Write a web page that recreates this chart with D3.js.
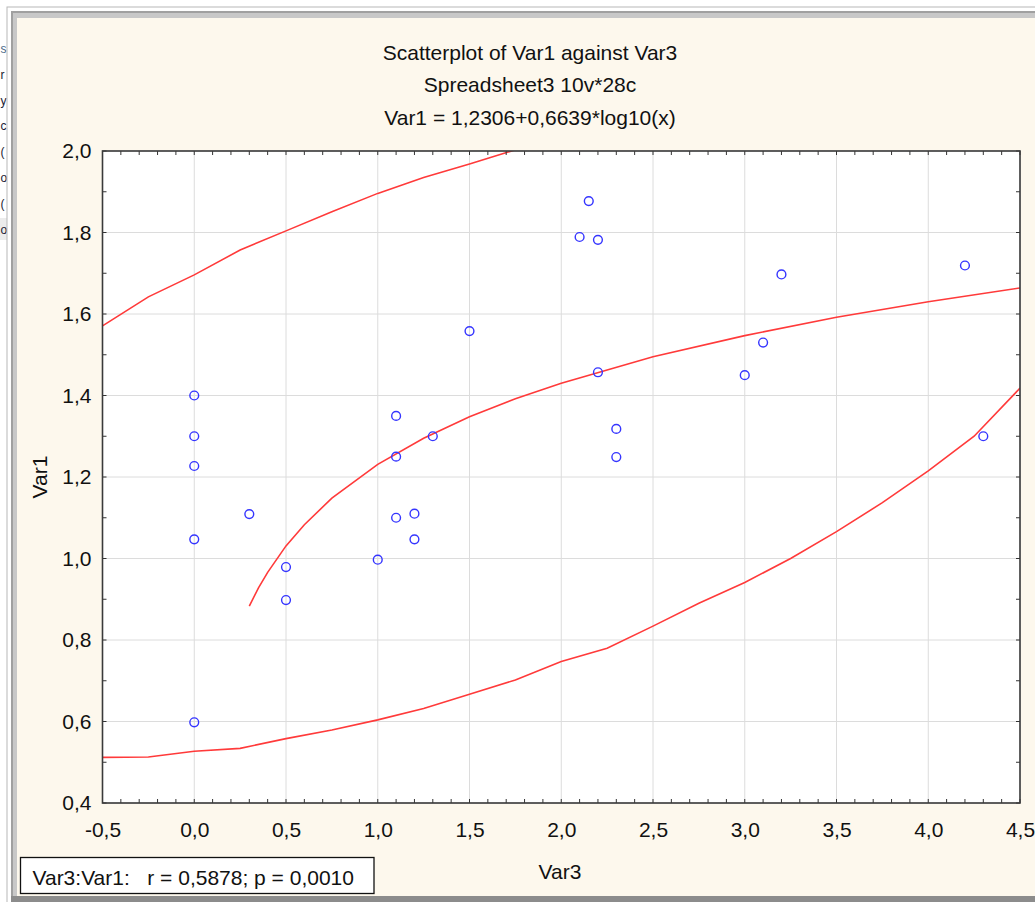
<!DOCTYPE html>
<html>
<head>
<meta charset="utf-8">
<script src="https://cdn.jsdelivr.net/npm/d3@7"></script>
<style>
  body { margin: 0; background: #fff; }
  svg { display: block; font-family: "Liberation Sans", Arial, sans-serif; }
</style>
</head>
<body>
<svg width="1035" height="902"></svg>
<script>
// observed cases (Var3 on x, Var1 on y)
let var3 = [0.0, 0.0, 0.0, 0.0, 0.0, 0.3, 0.5, 0.5, 1.0, 1.1, 1.1, 1.1, 1.2, 1.2, 1.3,
            1.5, 2.1, 2.15, 2.2, 2.2, 2.3, 2.3, 3.0, 3.1, 3.2, 4.2, 4.3];
let var1 = [1.40, 1.30, 1.227, 1.047, 0.598, 1.109, 0.979, 0.898, 0.997, 1.35, 1.25, 1.10, 1.11, 1.047, 1.30,
            1.558, 1.789, 1.877, 1.782, 1.457, 1.318, 1.249, 1.450, 1.530, 1.697, 1.719, 1.30];

// fitted curve
let fitX = [0.3, 0.35, 0.4, 0.5, 0.6, 0.75, 1.0, 1.25, 1.5, 1.75, 2.0, 2.5, 3.0, 3.5, 4.0, 4.5];
let fitY = [0.883, 0.928, 0.966, 1.031, 1.083, 1.148, 1.231, 1.295, 1.348, 1.392, 1.430, 1.495, 1.547, 1.592, 1.630, 1.664];

// upper / lower bands
let upX = [-0.5, -0.25, 0, 0.25, 0.5, 0.75, 1.0, 1.25, 1.5, 1.75];
let upY = [1.571, 1.642, 1.696, 1.757, 1.804, 1.851, 1.896, 1.935, 1.968, 2.003];
let loX = [-0.5, -0.25, 0, 0.25, 0.5, 0.75, 1.0, 1.25, 1.5, 1.75, 2.0, 2.25, 2.5, 2.75, 3.0, 3.25, 3.5, 3.75, 4.0, 4.25, 4.5];
let loY = [0.512, 0.513, 0.527, 0.534, 0.558, 0.579, 0.604, 0.632, 0.667, 0.702, 0.747, 0.780, 0.834, 0.890, 0.941, 1.000, 1.066, 1.137, 1.215, 1.300, 1.418];

let xTicks = [-0.5, 0, 0.5, 1.0, 1.5, 2.0, 2.5, 3.0, 3.5, 4.0, 4.5];
let yTicks = [0.4, 0.6, 0.8, 1.0, 1.2, 1.4, 1.6, 1.8, 2.0];

let titleLines = ["Scatterplot of Var1 against Var3", "Spreadsheet3 10v*28c", "Var1 = 1,2306+0,6639*log10(x)"];
let statText = "Var3:Var1:   r = 0,5878; p = 0,0010";
let sideGlyphs = ["s", "r", "y", "c", "(", "o", "(", "o"];

let colourBack  = "#fdf8ed";
let colourLine  = "#ff3a3a";
let colourPoint = "#3535ff";
let colourGrid  = "#dcdcdc";

let svg = d3.select("svg");
let fmt = d3.formatLocale({decimal: ",", thousands: ".", grouping: [3], currency: ["", ""], minus: "-"}).format(".1f");

// window chrome
svg.append("rect").attr("x", 0).attr("y", 0).attr("width", 1035).attr("height", 902).attr("fill", "#fff");
svg.append("rect").attr("x", 0).attr("y", 218).attr("width", 7).attr("height", 22).attr("fill", "#ececec");
svg.selectAll(".glyph")
  .data(sideGlyphs)
  .enter().append("text")
    .attr("class", "glyph")
    .attr("x", 0.5)
    .attr("y", (d, i) => 53 + i * 25.8)
    .attr("font-size", 12)
    .attr("fill", (d, i) => i == 0 ? "#4a6a8a" : "#1a2233")
    .text(d => d);
svg.append("rect").attr("x", 7).attr("y", 7).attr("width", 1030).attr("height", 900)
  .attr("fill", "#fff").attr("stroke", "#b8b8b8").attr("stroke-width", 1);
svg.append("rect").attr("x", 11).attr("y", 11).attr("width", 1030).attr("height", 891)
  .attr("fill", "#a0a0a0");
svg.append("rect").attr("x", 13).attr("y", 13).attr("width", 1030).attr("height", 883)
  .attr("fill", "#c8c8c8");
svg.append("rect").attr("x", 17).attr("y", 18).attr("width", 1020).attr("height", 878)
  .attr("fill", colourBack);
svg.append("rect").attr("x", 11).attr("y", 896).attr("width", 1030).attr("height", 6)
  .attr("fill", "#8c8c8c");

// scales
let x = d3.scaleLinear().domain([-0.5, 4.5]).range([102.5, 1020]);
let y = d3.scaleLinear().domain([0.4, 2.0]).range([803, 151]);
let [x0, x1] = x.range(), [y1, y0] = y.range();

svg.append("rect").attr("x", x0).attr("y", y0).attr("width", x1 - x0).attr("height", y1 - y0).attr("fill", "#fff");

svg.append("clipPath").attr("id", "plotclip")
  .append("rect").attr("x", x0).attr("y", y0).attr("width", x1 - x0).attr("height", y1 - y0);

// grid
svg.append("g")
  .selectAll("line").data(xTicks).enter().append("line")
    .attr("x1", d => x(d)).attr("x2", d => x(d))
    .attr("y1", y0).attr("y2", y1)
    .attr("stroke", colourGrid).attr("stroke-width", 1);
svg.append("g")
  .selectAll("line").data(yTicks).enter().append("line")
    .attr("x1", x0).attr("x2", x1)
    .attr("y1", d => y(d)).attr("y2", d => y(d))
    .attr("stroke", colourGrid).attr("stroke-width", 1);

// curves
let line = d3.line().x(d => x(d[0])).y(d => y(d[1]));
let curves = [d3.zip(fitX, fitY), d3.zip(upX, upY), d3.zip(loX, loY)];
svg.append("g").attr("clip-path", "url(#plotclip)")
  .selectAll("path").data(curves).enter().append("path")
    .attr("d", line)
    .attr("fill", "none")
    .attr("stroke", colourLine)
    .attr("stroke-width", 1.6);

// points
svg.append("g")
  .selectAll("circle").data(d3.zip(var3, var1)).enter().append("circle")
    .attr("cx", d => x(d[0]))
    .attr("cy", d => y(d[1]))
    .attr("r", 4.4)
    .attr("fill", "none")
    .attr("stroke", colourPoint)
    .attr("stroke-width", 1.4);

// inward ticks on all four sides (every 0.1)
let xMinor = d3.range(-5, 46).map(i => i / 10);
let yMinor = d3.range(4, 21).map(i => i / 10);
let tickG = svg.append("g").attr("stroke", "#333").attr("stroke-width", 1);
tickG.selectAll(".tb").data(xMinor).enter().append("line")
  .attr("x1", d => x(d)).attr("x2", d => x(d)).attr("y1", y1).attr("y2", y1 - 4);
tickG.selectAll(".tt").data(xMinor).enter().append("line")
  .attr("x1", d => x(d)).attr("x2", d => x(d)).attr("y1", y0).attr("y2", y0 + 4);
tickG.selectAll(".tl").data(yMinor).enter().append("line")
  .attr("x1", x0).attr("x2", x0 + 4).attr("y1", d => y(d)).attr("y2", d => y(d));
tickG.selectAll(".tr").data(yMinor).enter().append("line")
  .attr("x1", x1).attr("x2", x1 - 4).attr("y1", d => y(d)).attr("y2", d => y(d));

// frame
svg.append("rect").attr("x", x0).attr("y", y0).attr("width", x1 - x0).attr("height", y1 - y0)
  .attr("fill", "none").attr("stroke", "#3a3a3a").attr("stroke-width", 1.6);

// tick labels via d3 axes
let xAxis = d3.axisBottom(x).tickValues(xTicks).tickSize(0).tickPadding(0).tickFormat(fmt);
let gx = svg.append("g").attr("transform", `translate(0,${y1})`).call(xAxis);
gx.select(".domain").remove();
gx.selectAll("text").attr("dy", null).attr("y", 34).attr("font-size", 21)
  .attr("font-family", "Liberation Sans, Arial, sans-serif").attr("fill", "#111");

let yAxis = d3.axisLeft(y).tickValues(yTicks).tickSize(0).tickPadding(0).tickFormat(fmt);
let gy = svg.append("g").attr("transform", `translate(${x0},0)`).call(yAxis);
gy.select(".domain").remove();
gy.selectAll("text").attr("dy", null).attr("x", -11).attr("y", 6.5).attr("font-size", 21)
  .attr("font-family", "Liberation Sans, Arial, sans-serif").attr("fill", "#111");

// titles
svg.append("g").selectAll("text").data(titleLines).enter().append("text")
  .attr("x", 530)
  .attr("y", (d, i) => 59.5 + i * 32.5)
  .attr("text-anchor", "middle")
  .attr("font-size", 21)
  .attr("fill", "#111")
  .text(d => d);

svg.append("text")
  .attr("x", 560).attr("y", 879)
  .attr("text-anchor", "middle").attr("font-size", 21).attr("fill", "#111")
  .text("Var3");

svg.append("text")
  .attr("transform", `translate(47,${(y0 + y1) / 2}) rotate(-90)`)
  .attr("text-anchor", "middle").attr("font-size", 21).attr("fill", "#111")
  .text("Var1");

// stat box
svg.append("rect").attr("x", 20.5).attr("y", 857.5).attr("width", 353.5).attr("height", 36)
  .attr("fill", "#fff").attr("stroke", "#111").attr("stroke-width", 1.3);
svg.append("text")
  .attr("x", 32.5).attr("y", 884.5)
  .attr("font-size", 21).attr("fill", "#111")
  .attr("xml:space", "preserve").style("white-space", "pre")
  .text(statText);
</script>
</body>
</html>
